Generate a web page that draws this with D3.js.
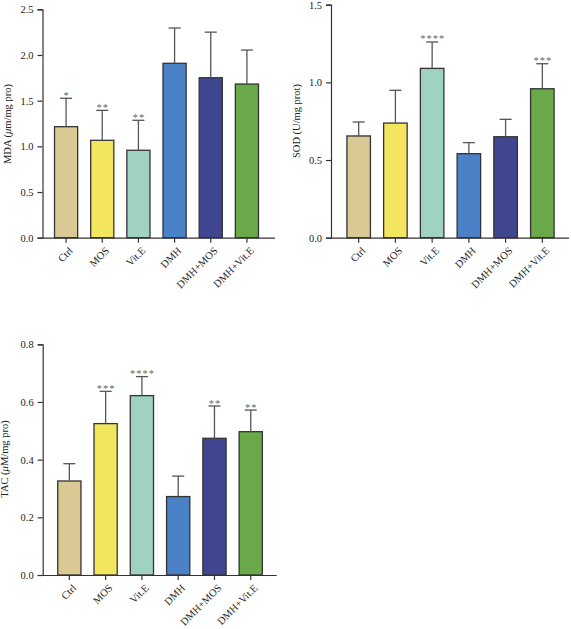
<!DOCTYPE html>
<html>
<head>
<meta charset="utf-8">
<script src="https://cdn.jsdelivr.net/npm/d3@7"></script>
<style>
  html, body { margin: 0; padding: 0; background: #fff; }
  svg { display: block; }
  text { font-family: "Liberation Serif", "DejaVu Serif", serif; }
</style>
</head>
<body>
<svg id="chart" width="571" height="629"></svg>
<script>
// ---- Data ----
const categories = ["Ctrl", "MOS", "Vit.E", "DMH", "DMH+MOS", "DMH+Vit.E"];
const colors = ["#d8c995", "#f3e65e", "#a0d3bf", "#4b81c7", "#40468f", "#69a94a"];

const mdaMean = [1.215, 1.066, 0.957, 1.909, 1.751, 1.682];
const mdaErr  = [1.526, 1.394, 1.285, 2.295, 2.250, 2.054];
const mdaStars = ["*", "**", "**", "", "", ""];
const mdaTicks = [0, 0.5, 1.0, 1.5, 2.0, 2.5];

const sodMean = [0.655, 0.738, 1.090, 0.541, 0.650, 0.959];
const sodErr  = [0.745, 0.949, 1.260, 0.612, 0.762, 1.120];
const sodStars = ["", "", "****", "", "", "***"];
const sodTicks = [0, 0.5, 1.0, 1.5];

const tacMean = [0.326, 0.525, 0.622, 0.272, 0.474, 0.497];
const tacErr  = [0.386, 0.637, 0.688, 0.343, 0.586, 0.572];
const tacStars = ["", "***", "****", "", "**", "**"];
const tacTicks = [0, 0.2, 0.4, 0.6, 0.8];

const svg = d3.select("#chart");

function panel(cfg) {
  const g = svg.append("g");
  const x = d3.scaleBand().domain(categories).range(cfg.band).paddingInner(0.36).paddingOuter(0.18);
  const y = d3.scaleLinear().domain([0, cfg.max]).range([cfg.y0, cfg.y1]);

  // bars
  g.selectAll("rect.bar").data(categories).enter().append("rect")
    .attr("x", d => x(d))
    .attr("y", (d, i) => y(cfg.mean[i]))
    .attr("width", x.bandwidth())
    .attr("height", (d, i) => y(0) - y(cfg.mean[i]))
    .attr("fill", (d, i) => colors[i])
    .attr("stroke", "#333")
    .attr("stroke-width", 1.3);

  // error bars
  const cap = 12;
  g.selectAll("line.err").data(categories).enter().append("line")
    .attr("x1", d => x(d) + x.bandwidth() / 2)
    .attr("x2", d => x(d) + x.bandwidth() / 2)
    .attr("y1", (d, i) => y(cfg.mean[i]))
    .attr("y2", (d, i) => y(cfg.err[i]))
    .attr("stroke", "#555").attr("stroke-width", 1.3);
  g.selectAll("line.cap").data(categories).enter().append("line")
    .attr("x1", d => x(d) + x.bandwidth() / 2 - cap / 2)
    .attr("x2", d => x(d) + x.bandwidth() / 2 + cap / 2)
    .attr("y1", (d, i) => y(cfg.err[i]))
    .attr("y2", (d, i) => y(cfg.err[i]))
    .attr("stroke", "#555").attr("stroke-width", 1.3);

  // stars
  g.selectAll("text.star").data(categories).enter().append("text")
    .attr("x", d => x(d) + x.bandwidth() / 2 + 0.5)
    .attr("y", (d, i) => y(cfg.err[i]) + 0.5)
    .attr("text-anchor", "middle")
    .attr("font-size", 10.5)
    .attr("letter-spacing", 1)
    .attr("fill", "#666")
    .text((d, i) => cfg.stars[i]);

  // y axis
  const yAxis = d3.axisLeft(y).tickValues(cfg.ticks).tickFormat(d3.format(".1f")).tickSizeOuter(0).tickSize(5).tickPadding(4);
  const ya = g.append("g").attr("transform", `translate(${cfg.axisX},0)`).call(yAxis);
  ya.select(".domain").attr("stroke", "#333").attr("stroke-width", 1.2);
  ya.selectAll(".tick line").attr("stroke", "#333").attr("stroke-width", 1.2);
  ya.selectAll(".tick text").attr("font-size", 10.5).attr("fill", "#222")
    .style("font-family", '"Liberation Serif", serif');

  // x axis
  const xAxis = d3.axisBottom(x).tickSizeOuter(0).tickSize(5).tickPadding(3);
  const xa = g.append("g").attr("transform", `translate(0,${cfg.y0})`).call(xAxis);
  xa.select(".domain").attr("d", `M${cfg.axisX},0.5H${cfg.axisEnd}`).attr("stroke", "#333").attr("stroke-width", 1.2);
  xa.selectAll(".tick line").attr("stroke", "#333").attr("stroke-width", 1.2);
  xa.selectAll(".tick text").attr("font-size", 10.5).attr("fill", "#222")
    .style("font-family", '"Liberation Serif", serif')
    .attr("text-anchor", "end")
    .attr("x", 0).attr("y", 0).attr("dx", 0)
    .attr("dy", "0.35em")
    .attr("transform", "translate(5,11) rotate(-45)");

  // y label
  const lab = g.append("text")
    .attr("transform", `translate(${cfg.labX},${cfg.labY}) rotate(-90)`)
    .attr("text-anchor", "middle")
    .attr("font-size", 10.5)
    .attr("fill", "#222");
  cfg.label.forEach(p => {
    const t = lab.append("tspan").text(p.t);
    if (p.i) t.attr("font-style", "italic");
  });
}

panel({ band: [48, 265], axisX: 42.5, axisEnd: 275, y0: 237.7, y1: 9.3, max: 2.5,
  mean: mdaMean, err: mdaErr, stars: mdaStars, ticks: mdaTicks,
  labX: 11, labY: 124, label: [{t: "MDA ("}, {t: "\u03bc", i: true}, {t: "m/mg pro)"}] });

panel({ band: [340.3, 560.7], axisX: 331, axisEnd: 569, y0: 237.7, y1: 4.7, max: 1.5,
  mean: sodMean, err: sodErr, stars: sodStars, ticks: sodTicks,
  labX: 300, labY: 121, label: [{t: "SOD (U/mg prot)"}] });

panel({ band: [51.2, 268.9], axisX: 42.7, axisEnd: 276.7, y0: 575, y1: 344.3, max: 0.8,
  mean: tacMean, err: tacErr, stars: tacStars, ticks: tacTicks,
  labX: 8, labY: 459, label: [{t: "TAC ("}, {t: "\u03bc", i: true}, {t: "M/mg pro)"}] });
</script>
</body>
</html>
